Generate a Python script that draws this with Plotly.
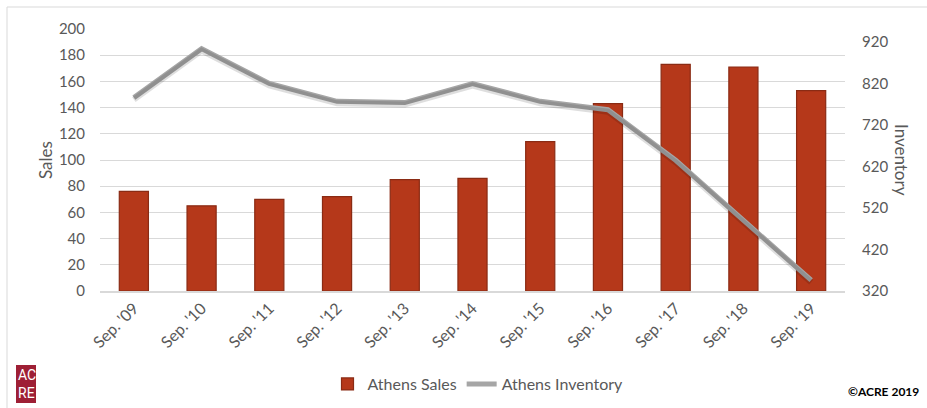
import plotly.graph_objects as go

categories = ["Sep. '09", "Sep. '10", "Sep. '11", "Sep. '12", "Sep. '13", "Sep. '14",
              "Sep. '15", "Sep. '16", "Sep. '17", "Sep. '18", "Sep. '19"]
sales = [76, 65, 70, 72, 85, 86, 114, 143, 173, 171, 153]
inventory = [786, 904, 820, 777, 774, 820, 777, 757, 635, 492, 346]
sales_ticks = [0, 20, 40, 60, 80, 100, 120, 140, 160, 180, 200]
inv_ticks = [320, 420, 520, 620, 720, 820, 920]

W, H = 927, 408
L, R, T, B = 100, 845, 29, 291

def px(x):
    return (x - L) / (R - L)

def py(y):
    return (B - y) / (B - T)

FONT = "Lato"
GRAY = "#595959"

fig = go.Figure()
fig.add_trace(go.Bar(
    x=categories, y=sales, name="Athens Sales", yaxis="y",
    marker=dict(color="#B5381A", line=dict(color="#8A2B14", width=1.2)),
    width=0.43,
))
# soft shadow of the line
fig.add_trace(go.Scatter(
    x=categories, y=inventory, yaxis="y3", mode="lines", showlegend=False,
    hoverinfo="skip", line=dict(color="rgba(0,0,0,0.13)", width=6),
))
fig.add_trace(go.Scatter(
    x=categories, y=inventory, name="Athens Inventory", yaxis="y2", mode="lines",
    line=dict(color="#A6A6A6", width=5),
))

inv_lo = 320
inv_hi = 320 + 600 / 249 * (B - T)
shift = 2 / ((B - T) / (inv_hi - inv_lo))

fig.update_layout(
    width=W, height=H,
    margin=dict(l=L, r=W - R, t=T, b=H - B, autoexpand=False),
    paper_bgcolor="white", plot_bgcolor="white",
    font=dict(family=FONT, size=14, color=GRAY),
    showlegend=True,
    legend=dict(orientation="h", x=px(478), xanchor="center", y=py(384), yanchor="middle",
                font=dict(size=16, color=GRAY), tracegroupgap=0),
    xaxis=dict(type="category", tickangle=-45, showgrid=False, showline=True,
               linecolor="#D9D9D9", linewidth=1.5, ticks="", tickfont=dict(size=16, color=GRAY),
               range=[-0.5, 10.5]),
    yaxis=dict(range=[0, 200], tickvals=sales_ticks, showgrid=True, gridcolor="#D9D9D9",
               gridwidth=1, zeroline=False, showline=False, ticks="",
               tickfont=dict(size=15, color=GRAY), ticklabelstandoff=14),
    yaxis2=dict(range=[inv_lo, inv_hi], tickvals=inv_ticks, overlaying="y", side="right",
                showgrid=False, zeroline=False, showline=False, ticks="",
                tickfont=dict(size=15, color=GRAY), ticklabelstandoff=16),
    yaxis3=dict(range=[inv_lo + shift, inv_hi + shift], overlaying="y", side="right",
                visible=False),
    shapes=[
        dict(type="rect", xref="paper", yref="paper", x0=px(7), x1=px(960), y0=py(7), y1=py(440),
             line=dict(color="#D9D9D9", width=1), fillcolor="rgba(0,0,0,0)", layer="below"),
        dict(type="rect", xref="paper", yref="paper", x0=px(16), x1=px(36), y0=py(365), y1=py(403),
             line=dict(width=0), fillcolor="#9E1F35"),
    ],
    annotations=[
        dict(text="Sales", xref="paper", yref="paper", x=px(45), y=py(160), textangle=-90,
             showarrow=False, font=dict(size=17, color=GRAY), xanchor="center", yanchor="middle"),
        dict(text="Inventory", xref="paper", yref="paper", x=px(902), y=py(160), textangle=90,
             showarrow=False, font=dict(size=17, color=GRAY), xanchor="center", yanchor="middle"),
        dict(text="AC", xref="paper", yref="paper", x=px(26.5), y=py(375), showarrow=False,
             font=dict(size=14, color="white", family="Roboto"), xanchor="center", yanchor="middle"),
        dict(text="RE", xref="paper", yref="paper", x=px(26.5), y=py(393), showarrow=False,
             font=dict(size=14, color="white", family="Roboto"), xanchor="center", yanchor="middle"),
        dict(text="<b>©ACRE 2019</b>", xref="paper", yref="paper", x=px(921), y=py(391),
             showarrow=False, font=dict(size=12, color="#000000"), xanchor="right", yanchor="middle"),
    ],
)

fig.write_html("out.html", config={"displayModeBar": False},
               post_script="document.body.style.margin='0';document.body.style.overflow='hidden';")
